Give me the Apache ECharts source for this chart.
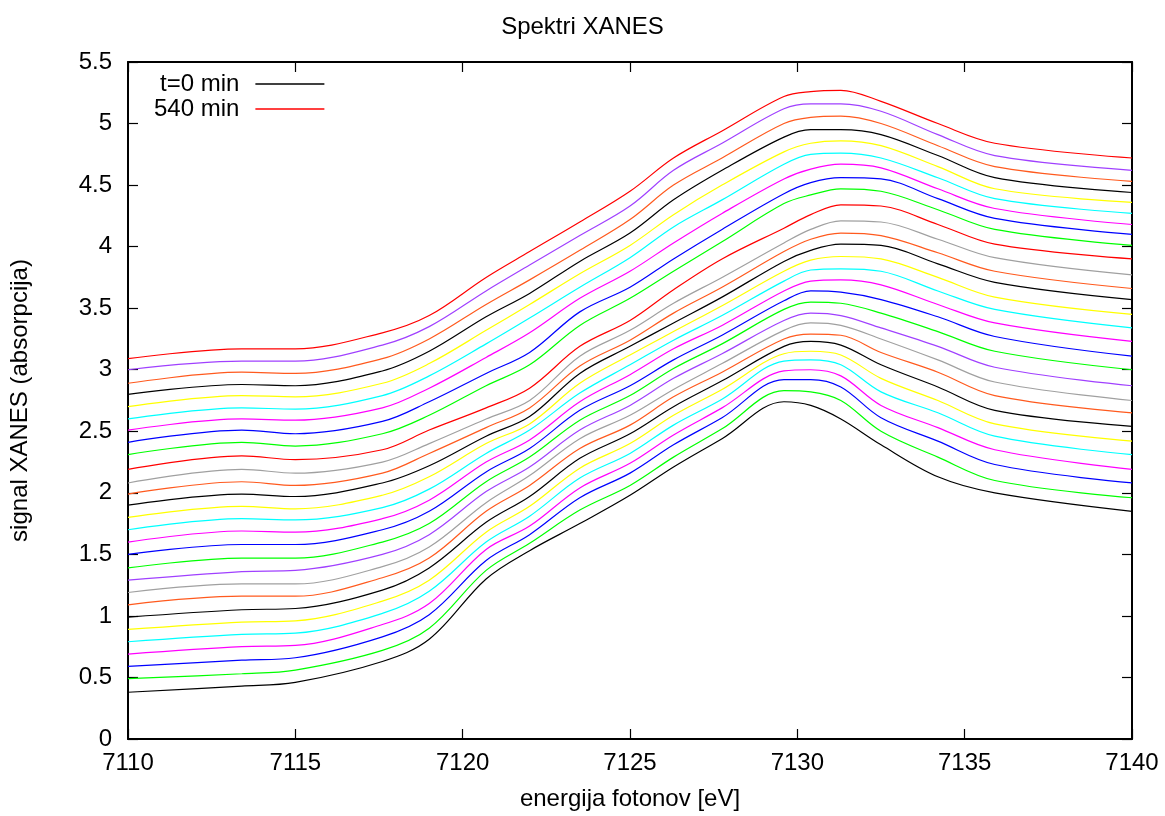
<!DOCTYPE html>
<html>
<head>
<meta charset="utf-8">
<script src="https://cdn.jsdelivr.net/npm/echarts@6/dist/echarts.min.js"></script>
<style>
html,body{margin:0;padding:0;background:#fff;}
#chart{width:1165px;height:816px;}
</style>
</head>
<body>
<div id="chart"></div>
<script>
// Photon energies (eV) at which the spectra were read
const energies = [7110, 7113.4, 7115, 7117.6, 7119, 7120.7, 7122, 7123.5, 7125, 7126.3, 7127.75, 7129.6, 7130.4, 7131.3, 7132.5, 7134.2, 7135.9, 7140];

// Signal of every spectrum (bottom t=0 min ... top 540 min) at each energy
const e7110   = [0.38,0.49,0.59,0.69,0.79,0.89,0.99,1.09,1.19,1.29,1.39,1.50,1.60,1.70,1.80,1.90,1.99,2.08,2.19,2.31,2.41,2.51,2.60,2.70,2.80,2.89,3.00,3.09];
const e7113_4 = [0.43,0.53,0.64,0.75,0.85,0.95,1.05,1.16,1.26,1.36,1.47,1.58,1.69,1.79,1.89,1.99,2.09,2.19,2.30,2.41,2.51,2.60,2.69,2.79,2.88,2.98,3.07,3.17];
const e7115   = [0.46,0.56,0.66,0.76,0.86,0.96,1.06,1.16,1.26,1.37,1.47,1.58,1.68,1.78,1.87,1.97,2.06,2.16,2.27,2.38,2.48,2.59,2.68,2.78,2.87,2.97,3.07,3.17];
const e7117_6 = [0.63,0.72,0.83,0.93,1.02,1.12,1.21,1.31,1.40,1.50,1.60,1.70,1.79,1.88,1.98,2.08,2.16,2.25,2.35,2.48,2.58,2.69,2.79,2.89,2.99,3.09,3.20,3.30];
const e7119   = [0.81,0.90,1.01,1.10,1.20,1.29,1.39,1.47,1.56,1.66,1.75,1.85,1.94,2.03,2.13,2.22,2.32,2.40,2.51,2.63,2.74,2.85,2.95,3.05,3.15,3.25,3.35,3.44];
const e7120_7 = [1.30,1.37,1.45,1.54,1.60,1.68,1.76,1.85,1.92,2.01,2.09,2.17,2.25,2.32,2.40,2.46,2.53,2.60,2.69,2.87,2.97,3.10,3.21,3.32,3.43,3.53,3.64,3.75];
const e7122   = [1.53,1.59,1.66,1.73,1.81,1.89,1.97,2.06,2.14,2.21,2.29,2.36,2.43,2.51,2.56,2.62,2.69,2.75,2.85,3.04,3.14,3.30,3.42,3.53,3.62,3.73,3.85,3.96];
const e7123_5 = [1.75,1.86,1.96,2.04,2.12,2.20,2.28,2.36,2.44,2.51,2.59,2.67,2.74,2.81,2.89,2.97,3.03,3.11,3.19,3.36,3.47,3.58,3.67,3.78,3.88,3.97,4.09,4.20];
const e7125   = [1.98,2.06,2.16,2.24,2.32,2.40,2.48,2.55,2.63,2.71,2.79,2.87,2.96,3.04,3.12,3.19,3.24,3.32,3.40,3.58,3.67,3.80,3.91,4.01,4.11,4.22,4.33,4.45];
const e7126_3 = [2.21,2.29,2.39,2.47,2.55,2.63,2.70,2.78,2.84,2.93,3.01,3.08,3.17,3.24,3.31,3.38,3.46,3.54,3.65,3.80,3.90,4.03,4.16,4.26,4.38,4.50,4.62,4.72];
const e7127_75= [2.44,2.52,2.61,2.69,2.76,2.84,2.91,2.98,3.05,3.13,3.21,3.28,3.36,3.44,3.52,3.59,3.67,3.75,3.90,4.04,4.14,4.27,4.38,4.50,4.62,4.72,4.84,4.94];
const e7129_6 = [2.74,2.83,2.92,2.99,3.07,3.13,3.19,3.25,3.32,3.40,3.49,3.56,3.64,3.72,3.80,3.88,3.96,4.03,4.15,4.35,4.43,4.55,4.67,4.77,4.89,5.00,5.12,5.22];
const e7130_4 = [2.71,2.82,2.92,3.00,3.08,3.15,3.23,3.29,3.38,3.46,3.55,3.64,3.72,3.81,3.89,3.97,4.06,4.14,4.26,4.42,4.52,4.63,4.75,4.84,4.95,5.05,5.16,5.26];
const e7131_3 = [2.60,2.75,2.86,2.95,3.04,3.12,3.20,3.28,3.36,3.44,3.54,3.63,3.73,3.82,3.92,4.02,4.11,4.21,4.34,4.47,4.56,4.67,4.76,4.86,4.95,5.06,5.16,5.27];
const e7132_5 = [2.39,2.50,2.61,2.71,2.82,2.93,3.04,3.14,3.25,3.34,3.46,3.57,3.69,3.80,3.90,4.01,4.09,4.20,4.33,4.45,4.55,4.64,4.72,4.82,4.91,5.00,5.10,5.18];
const e7134_2 = [2.13,2.29,2.42,2.53,2.65,2.75,2.86,2.98,3.08,3.19,3.31,3.43,3.53,3.64,3.75,3.86,3.95,4.06,4.18,4.30,4.39,4.47,4.56,4.65,4.74,4.82,4.91,5.00];
const e7135_9 = [2.00,2.10,2.23,2.35,2.46,2.56,2.67,2.79,2.90,3.02,3.15,3.27,3.38,3.49,3.59,3.71,3.80,3.91,4.02,4.14,4.23,4.31,4.39,4.47,4.56,4.65,4.74,4.84];
const e7140   = [1.85,1.96,2.08,2.19,2.31,2.42,2.54,2.65,2.75,2.87,3.00,3.11,3.23,3.34,3.45,3.57,3.66,3.77,3.90,4.01,4.10,4.18,4.27,4.36,4.44,4.53,4.62,4.72];

const columns = [e7110, e7113_4, e7115, e7117_6, e7119, e7120_7, e7122, e7123_5, e7125, e7126_3, e7127_75, e7129_6, e7130_4, e7131_3, e7132_5, e7134_2, e7135_9, e7140];

// Time of each spectrum (min)
const times = [0,20,40,60,80,100,120,140,160,180,200,220,240,260,280,300,320,340,360,380,400,420,440,460,480,500,520,540];

const colors = ['#000000','#00ff00','#0000ff','#ff00ff','#00ffff','#ffff00','#000000','#ff5a1e','#a0a0a0','#a040ff',
                '#00ff00','#0000ff','#ff00ff','#00ffff','#ffff00','#000000','#ff5a1e','#a0a0a0','#ff0000','#00ff00',
                '#0000ff','#ff00ff','#00ffff','#ffff00','#000000','#ff5a1e','#a040ff','#ff0000'];

const legendNames = ['t=0 min', '540 min'];
const xTitle = 'energija fotonov [eV]';
const yTitle = 'signal XANES (absorpcija)';
const chartTitle = 'Spektri XANES';

const FONT = '"Liberation Sans", Arial, Helvetica, sans-serif';

const series = times.map((t, i) => ({
  type: 'line',
  name: i === 0 ? legendNames[0] : (i === times.length - 1 ? legendNames[1] : t + ' min'),
  data: energies.map((x, k) => [x, columns[k][i]]),
  smooth: 0.35,
  symbol: 'none',
  showSymbol: false,
  lineStyle: { color: colors[i], width: 1.2 },
  itemStyle: { color: colors[i] },
  animation: false,
  z: 2
}));

const axisCommon = {
  axisLine: { show: true, onZero: false, lineStyle: { color: '#000', width: 2 } },
  axisTick: { show: true, inside: true, length: 10, lineStyle: { color: '#000', width: 1.2 } },
  splitLine: { show: false }
};

const chart = echarts.init(document.getElementById('chart'), null, { renderer: 'canvas' });
chart.setOption({
  backgroundColor: '#ffffff',
  animation: false,
  title: {
    text: chartTitle,
    left: 'center',
    top: 10,
    textStyle: { fontFamily: FONT, fontSize: 24, fontWeight: 'normal', color: '#000' }
  },
  legend: {
    data: legendNames,
    orient: 'vertical',
    align: 'right',
    left: 154,
    top: 72,
    padding: 0,
    itemGap: 1,
    icon: 'rect',
    itemWidth: 69,
    itemHeight: 1.4,
    textStyle: { fontFamily: FONT, fontSize: 24, color: '#000', padding: [0, 11, 0, 0], lineHeight: 24 }
  },
  grid: { left: 123, right: 33, top: 62, bottom: 77, containLabel: false },
  xAxis: [
    Object.assign({
      type: 'value', min: 7110, max: 7140, interval: 5, position: 'bottom',
      name: xTitle, nameLocation: 'middle', nameGap: 48,
      nameTextStyle: { fontFamily: FONT, fontSize: 24, color: '#000' },
      axisLabel: { fontFamily: FONT, fontSize: 24, color: '#000', margin: 12, formatter: v => String(v) }
    }, axisCommon),
    Object.assign({
      type: 'value', min: 7110, max: 7140, interval: 5, position: 'top',
      axisLabel: { show: false }
    }, axisCommon)
  ],
  yAxis: [
    Object.assign({
      type: 'value', min: 0, max: 5.5, interval: 0.5, position: 'left',
      name: yTitle, nameLocation: 'middle', nameGap: 96, nameRotate: 90,
      nameTextStyle: { fontFamily: FONT, fontSize: 24, color: '#000' },
      axisLabel: { fontFamily: FONT, fontSize: 24, color: '#000', margin: 16, formatter: v => String(v) }
    }, axisCommon),
    Object.assign({
      type: 'value', min: 0, max: 5.5, interval: 0.5, position: 'right',
      axisLabel: { show: false }
    }, axisCommon)
  ],
  series: series
});
</script>
</body>
</html>
